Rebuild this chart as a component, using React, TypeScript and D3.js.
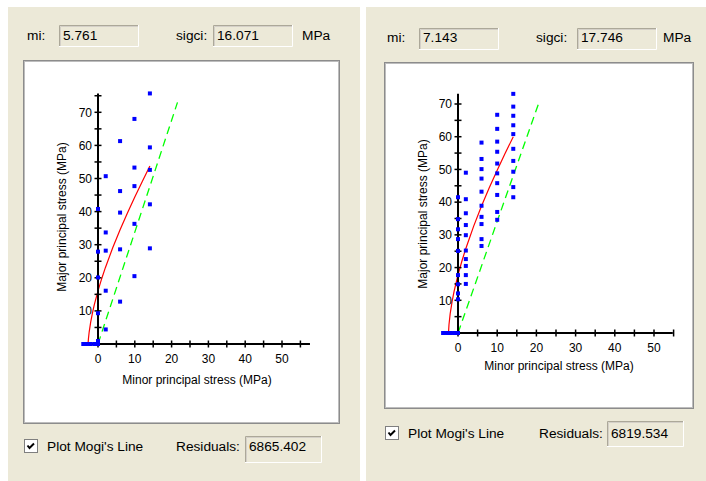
import React from 'react';
import * as d3 from 'd3';

// ---------- DATA ----------
const leftMi = '5.761';
const leftSigci = '16.071';
const leftResiduals = '6865.402';
const rightMi = '7.143';
const rightSigci = '17.746';
const rightResiduals = '6819.534';

const xTickValues = [0, 5, 10, 15, 20, 25, 30, 35, 40, 45, 50, 55];
const xTickLabels = [0, 10, 20, 30, 40, 50];
const leftYTickValues = [5, 10, 15, 20, 25, 30, 35, 40, 45, 50, 55, 60, 65, 70, 75];
const rightYTickValues = [5, 10, 15, 20, 25, 30, 35, 40, 45, 50, 55, 60, 65, 70];
const yTickLabels = [10, 20, 30, 40, 50, 60, 70];

// [minor, major] principal stress (MPa)
const leftPoints: [number, number][] = [
  [14.1, 75.7], [9.9, 68.0], [6.0, 61.3], [14.1, 59.4], [2.1, 50.7], [9.9, 53.3],
  [14.1, 52.6], [6.0, 46.2], [9.9, 47.7], [0, 40.8], [6.0, 39.7], [14.1, 42.2],
  [9.9, 36.3], [2.1, 33.7], [0, 27.9], [2.1, 28.2], [6.0, 28.6], [14.1, 28.9],
  [0, 20.1], [9.9, 20.5], [2.1, 16.1], [6.0, 12.8], [0, 9.3], [2.1, 4.4], [0, 0.9],
];
const leftTensile: [number, number][] = [[-4.0, 0], [-3.0, 0], [-2.0, 0], [-1.0, 0], [0, 0]];

const rightPoints: [number, number][] = [
  [2.0, 49.0], [2.0, 40.9], [2.0, 36.6], [2.0, 33.0], [2.0, 29.9], [2.0, 25.2],
  [2.0, 22.6], [2.0, 20.5], [2.0, 17.7], [2.0, 15.0],
  [0, 41.5], [0, 34.8], [0, 31.7], [0, 28.7], [0, 25.1], [0, 17.7], [0, 14.9],
  [0, 12.1], [0, 10.3],
  [6.0, 58.2], [6.0, 53.2], [6.0, 50.1], [6.0, 47.2], [6.0, 43.2], [6.0, 38.9],
  [6.0, 35.5], [6.0, 33.3], [6.0, 28.7], [6.0, 26.6],
  [10.0, 66.7], [10.0, 62.4], [10.0, 58.5], [10.0, 55.4], [10.0, 51.8], [10.0, 48.8],
  [10.0, 45.8], [10.0, 42.2], [10.0, 37.0], [10.0, 34.6],
  [14.1, 73.1], [14.1, 69.2], [14.1, 66.4], [14.1, 63.5], [14.1, 60.8], [14.1, 56.3],
  [14.1, 52.6], [14.1, 49.3], [14.1, 44.6], [14.1, 41.5],
];
const rightTensile: [number, number][] = [[-3.8, 0], [-2.8, 0], [-1.8, 0], [-0.9, 0], [0, 0]];

// Hoek-Brown fitted envelopes
const leftCurve: [number, number][] = [
  [-2.71, 0], [-2.6, 1.59], [-2.4, 3.61], [-2.0, 6.55], [-1.5, 9.43], [-1.0, 11.87],
  [0, 16.07], [1, 19.73], [2, 23.06], [4, 29.07], [6, 34.53], [8, 39.61],
  [10, 44.41], [12, 49.0], [14.1, 53.8],
];
const rightCurve: [number, number][] = [
  [-2.43, 0], [-2.3, 2.53], [-2.0, 5.84], [-1.5, 9.67], [-1.0, 12.72], [0, 17.75],
  [1, 22.02], [2, 25.84], [4, 32.67], [6, 38.79], [8, 44.46], [10, 49.78],
  [12, 54.85], [14.1, 60.0],
];
// Mogi's line
const leftMogi: [number, number][] = [[0, 0], [21.6, 73.0]];
const rightMogi: [number, number][] = [[0, 0], [20.6, 70.3]];

// ---------- STYLES ----------
const BG = '#ECE9D8';
const UI_FONT = "'Liberation Sans', Arial, sans-serif";

type Layout = {
  px: number;
  pw: number;
  box: [number, number, number, number];
  ox: number; oy: number; x50: number; y70: number;
  xMin: number; xMax: number; yMax: number;
  topBase: number; topBox: [number, number];
  miX: number; miBox: number; sigX: number; sigBox: number; mpaX: number; boxW: number;
  cbX: number; cbY: number; bottomBase: number; resX: number; resBox: [number, number, number];
  xTitle: [number, number]; yTitle: [number, number];
};

const Sunken = ({ x, y, w, h }: { x: number; y: number; w: number; h: number }) => (
  <g>
    <rect x={x} y={y} width={w} height={h} fill={BG} />
    <path d={`M${x + 0.5},${y + h}V${y + 0.5}H${x + w}`} stroke="#ACA899" fill="none" />
    <path d={`M${x + 1.5},${y + h - 1}V${y + 1.5}H${x + w - 1}`} stroke="#D4D0C8" fill="none" />
    <path d={`M${x},${y + h - 0.5}H${x + w - 0.5}V${y}`} stroke="#FFFFFF" fill="none" />
  </g>
);

type PanelProps = {
  L: Layout; mi: string; sigci: string; residuals: string;
  points: [number, number][]; tensile: [number, number][];
  curve: [number, number][]; mogi: [number, number][]; yTicks: number[];
};

const Panel = ({ L, mi, sigci, residuals, points, tensile, curve, mogi, yTicks }: PanelProps) => {
  const x = d3.scaleLinear().domain([0, 50]).range([L.ox, L.x50]);
  const y = d3.scaleLinear().domain([0, 70]).range([L.oy, L.y70]);
  const line = d3.line<[number, number]>().x((d) => x(d[0])).y((d) => y(d[1]));
  const [bx, by, bw, bh] = L.box;
  const ms = 4;
  return (
    <g>
      <rect x={L.px} y={7} width={L.pw} height={481 - 7} fill={BG} />
      <g fontFamily={UI_FONT} fontSize={13.7} fill="#000">
        <text x={L.miX} y={L.topBase}>mi:</text>
        <Sunken x={L.miBox} y={L.topBox[0]} w={L.boxW} h={L.topBox[1]} />
        <text x={L.miBox + 4} y={L.topBase}>{mi}</text>
        <text x={L.sigX} y={L.topBase}>sigci:</text>
        <Sunken x={L.sigBox} y={L.topBox[0]} w={L.boxW} h={L.topBox[1]} />
        <text x={L.sigBox + 4} y={L.topBase}>{sigci}</text>
        <text x={L.mpaX} y={L.topBase}>MPa</text>
      </g>
      {/* plot box */}
      <rect x={bx + 0.5} y={by + 0.5} width={bw} height={bh} fill="#fff" stroke="#8C8C8C" strokeWidth={1} />
      <rect x={bx + 1.5} y={by + 1.5} width={bw - 2} height={bh - 2} fill="none" stroke="#BDBDBD" strokeWidth={1} />
      {/* Mogi line */}
      <path d={line(mogi) || ''} stroke="#00FF00" strokeWidth={1.3} fill="none" strokeDasharray="8,5" />
      {/* fitted curve */}
      <path d={line(curve) || ''} stroke="#FF0000" strokeWidth={1.2} fill="none" />
      {/* axes */}
      <g stroke="#000">
        <line x1={x(L.xMin)} x2={x(L.xMax)} y1={y(0)} y2={y(0)} strokeWidth={2} />
        <line x1={x(0)} x2={x(0)} y1={y(0)} y2={y(L.yMax)} strokeWidth={2} />
        {xTickValues.map((t) => (
          <line key={'xt' + t} x1={x(t)} x2={x(t)} y1={y(0) - 3.5} y2={y(0) + 3.5} strokeWidth={1.5} />
        ))}
        {yTicks.map((t) => (
          <line key={'yt' + t} x1={x(0) - 3.5} x2={x(0) + 3.5} y1={y(t)} y2={y(t)} strokeWidth={1.5} />
        ))}
      </g>
      <g fontFamily={UI_FONT} fontSize={12} fill="#000">
        {xTickLabels.map((t) => (
          <text key={'xl' + t} x={x(t)} y={y(0) + 19} textAnchor="middle">{t}</text>
        ))}
        {yTickLabels.map((t) => (
          <text key={'yl' + t} x={x(0) - 6} y={y(t) + 4.3} textAnchor="end">{t}</text>
        ))}
        <text x={L.xTitle[0]} y={L.xTitle[1]} textAnchor="middle">Minor principal stress (MPa)</text>
        <text transform={`translate(${L.yTitle[0]},${L.yTitle[1]}) rotate(-90)`} textAnchor="middle">
          Major principal stress (MPa)
        </text>
      </g>
      {/* data */}
      <g fill="#0000FF">
        {tensile.concat(points).map((d, i) => (
          <rect key={'p' + i} x={x(d[0]) - ms / 2} y={y(d[1]) - ms / 2} width={ms} height={ms} />
        ))}
      </g>
      {/* bottom row */}
      <rect x={L.cbX + 0.5} y={L.cbY + 0.5} width={13} height={13} fill="#fff" stroke="#7F7F7F" />
      <path
        d={`M${L.cbX + 3.5},${L.cbY + 6.5}L${L.cbX + 5.5},${L.cbY + 9}L${L.cbX + 10},${L.cbY + 4.5}`}
        stroke="#000" strokeWidth={2} fill="none"
      />
      <g fontFamily={UI_FONT} fontSize={13.7} fill="#000">
        <text x={L.cbX + 23} y={L.bottomBase}>Plot Mogi's Line</text>
        <text x={L.resX} y={L.bottomBase}>Residuals:</text>
        <Sunken x={L.resBox[0]} y={L.resBox[1]} w={77} h={L.resBox[2]} />
        <text x={L.resBox[0] + 4} y={L.bottomBase}>{residuals}</text>
      </g>
    </g>
  );
};

const leftLayout: Layout = {
  px: 8, pw: 352, box: [23, 60, 316, 363],
  ox: 98, oy: 344, x50: 282, y70: 112.3, xMin: -4.1, xMax: 57.6, yMax: 75.7,
  topBase: 40, topBox: [25, 22], miX: 27, miBox: 59, sigX: 176, sigBox: 213, mpaX: 302, boxW: 80,
  cbX: 24, cbY: 439, bottomBase: 451, resX: 176, resBox: [245, 436, 27],
  xTitle: [197, 384], yTitle: [66, 217],
};

const rightLayout: Layout = {
  px: 366, pw: 340, box: [384, 62, 309, 346],
  ox: 458, oy: 333, x50: 654, y70: 104, xMin: -3.9, xMax: 54.8, yMax: 73.1,
  topBase: 42, topBox: [28, 22], miX: 387, miBox: 419, sigX: 536, sigBox: 577, mpaX: 663, boxW: 80,
  cbX: 385, cbY: 426, bottomBase: 438, resX: 539, resBox: [607, 421, 26],
  xTitle: [559, 370], yTitle: [427, 214],
};

export default function App() {
  return (
    <svg width={706} height={481} style={{ position: 'absolute', left: 0, top: 0, background: '#fff' }}>
      <rect x={0} y={0} width={706} height={481} fill="#fff" />
      <Panel L={leftLayout} mi={leftMi} sigci={leftSigci} residuals={leftResiduals}
        points={leftPoints} tensile={leftTensile} curve={leftCurve} mogi={leftMogi} yTicks={leftYTickValues} />
      <Panel L={rightLayout} mi={rightMi} sigci={rightSigci} residuals={rightResiduals}
        points={rightPoints} tensile={rightTensile} curve={rightCurve} mogi={rightMogi} yTicks={rightYTickValues} />
    </svg>
  );
}
